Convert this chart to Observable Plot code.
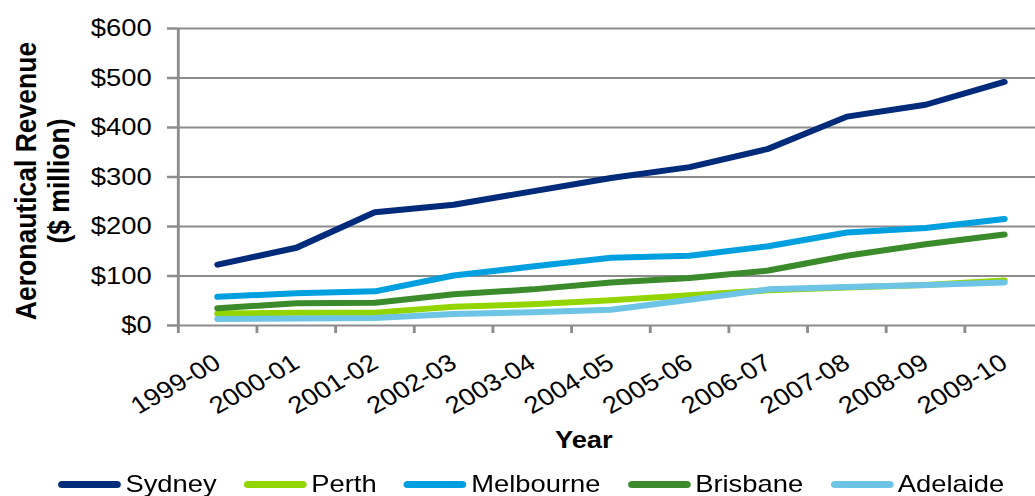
<!DOCTYPE html>
<html>
<head>
<meta charset="utf-8">
<script src="https://cdn.jsdelivr.net/npm/d3@7"></script>
<script src="https://cdn.jsdelivr.net/npm/@observablehq/plot@0.6"></script>
<style>
  html, body { margin: 0; padding: 0; background: #fff; }
  #chart {
    width: 908px;
    transform: scaleX(1.1399);
    transform-origin: 0 0;
    font-family: "Liberation Sans", Arial, sans-serif;
    color: #000;
  }
  .legend {
    display: flex;
    align-items: center;
    height: 44px;
    padding-left: 51px;
    font-size: 24px;
  }
  .legend .item { display: flex; align-items: center; margin-right: 24px; }
  .legend .swatch { width: 55px; height: 7px; border-radius: 4px; margin-right: 4px; }
</style>
</head>
<body>
<div id="chart"></div>
<script>
// Aeronautical revenue of the five major airports, $ million, by financial year
const years = ["1999-00", "2000-01", "2001-02", "2002-03", "2003-04", "2004-05",
               "2005-06", "2006-07", "2007-08", "2008-09", "2009-10"];
const cities = ["Sydney", "Perth", "Melbourne", "Brisbane", "Adelaide"];
const colors = ["#002a7a", "#93d500", "#00a0e0", "#3b8b2c", "#6dc4e4"];

const sydney    = [123, 157, 229, 244, 271, 298, 320, 357, 422, 446, 492];
const perth     = [24, 26, 26, 38, 43, 51, 61, 71, 77, 82, 91];
const melbourne = [58, 65, 69, 101, 119, 137, 141, 160, 188, 197, 215];
const brisbane  = [35, 45, 46, 63, 73, 87, 96, 111, 141, 164, 184];
const adelaide  = [13, 14, 15, 23, 27, 32, 52, 73, 78, 82, 87];

const yTicks = [0, 100, 200, 300, 400, 500, 600];

const seriesValues = [sydney, perth, melbourne, brisbane, adelaide];
const rows = cities.flatMap((city, c) =>
  years.map((year, i) => ({city, year, value: seriesValues[c][i]})));

const W = 908, H = 462;
const mLeft = 155.3, mTop = 28, mBottom = 137;
const xRange = [mLeft, 915.8];
const bw = (xRange[1] - xRange[0]) / years.length;
const grey = "#8c8c8c";

const chart = Plot.plot({
  width: W,
  height: H,
  marginLeft: mLeft,
  marginRight: 0,
  marginTop: mTop,
  marginBottom: mBottom,
  style: {fontFamily: "Liberation Sans, Arial, sans-serif", fontSize: "24px", color: "#000", background: "#fff"},
  x: {type: "band", domain: years, range: xRange, padding: 0, axis: null},
  y: {domain: [0, 600], axis: null},
  color: {domain: cities, range: colors},
  marks: [
    Plot.ruleY(yTicks, {stroke: grey, strokeWidth: 2}),
    Plot.ruleX(years.slice(0, 1), {dx: -bw / 2, stroke: grey, strokeWidth: 2.5}),
    Plot.axisY({ticks: yTicks, tickSize: 8.8, tickPadding: 14, tickFormat: d => "$" + d,
                stroke: grey, strokeWidth: 2.5, fontSize: 24, fill: "#000", label: null}),
    Plot.axisX({tickSize: 8, tickFormat: () => "", dx: -bw / 2, stroke: grey, strokeWidth: 2.5, label: null}),
    Plot.text(years, {x: d => d, frameAnchor: "bottom", rotate: -33, textAnchor: "end",
                      lineAnchor: "top", dx: -5, dy: 27, fontSize: 24, fill: "#000"}),
    Plot.text(["Year"], {frameAnchor: "bottom", dx: -20, dy: 105, lineAnchor: "top",
                         fontSize: 24, fontWeight: "bold", fill: "#000"}),
    Plot.text(["Aeronautical Revenue\n($ million)"], {frameAnchor: "left", rotate: -90,
               textAnchor: "middle", lineAnchor: "middle", dx: -119, dy: 4,
               lineHeight: 1.08, fontSize: 26.5, fontWeight: "bold", fill: "#000"}),
    Plot.line(rows, {x: "year", y: "value", z: "city", stroke: "city",
                     strokeWidth: 6, strokeLinecap: "round", strokeLinejoin: "round"})
  ]
});

const root = document.getElementById("chart");
root.appendChild(chart);

// Line-swatch legend below the plot
const legend = document.createElement("div");
legend.className = "legend";
cities.forEach((city, i) => {
  const item = document.createElement("div");
  item.className = "item";
  const sw = document.createElement("span");
  sw.className = "swatch";
  sw.style.background = colors[i];
  const label = document.createElement("span");
  label.textContent = city;
  item.append(sw, label);
  legend.appendChild(item);
});
root.appendChild(legend);
</script>
</body>
</html>
